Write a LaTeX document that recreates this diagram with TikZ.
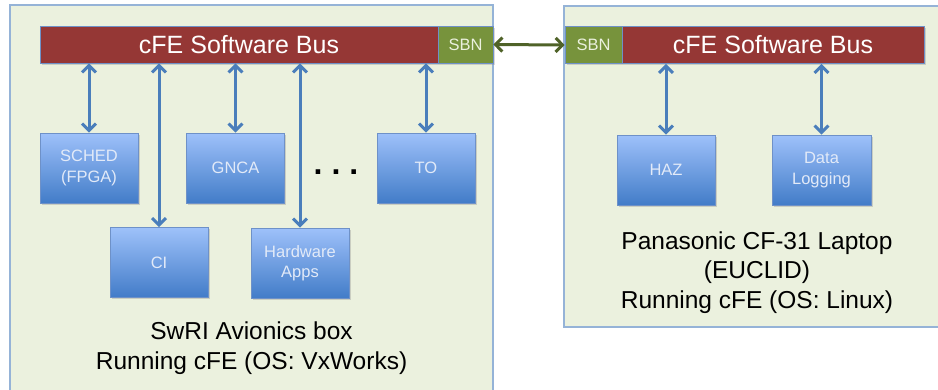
\documentclass[tikz,border=0pt]{standalone}
\usepackage{fontspec}
\setmainfont{Liberation Sans}
\usetikzlibrary{arrows.meta,shadows}

\definecolor{panelfill}{RGB}{235,241,222}
\definecolor{panelline}{RGB}{149,179,215}
\definecolor{busred}{RGB}{149,55,53}
\definecolor{sbngreen}{RGB}{119,147,60}
\definecolor{edgeblue}{RGB}{110,145,200}
\definecolor{arrowblue}{RGB}{74,126,187}
\definecolor{arrowgreen}{RGB}{79,98,40}
\definecolor{apptop}{RGB}{158,193,250}
\definecolor{appbot}{RGB}{66,124,200}
\definecolor{apptext}{RGB}{226,234,248}

\tikzset{
  panel/.style={draw=panelline, line width=1.4pt, fill=panelfill},
  busbar/.style={draw=edgeblue, line width=0.6pt, fill=busred, text=white,
    font=\fontsize{25}{28}\selectfont, minimum height=37pt, inner sep=0pt,
    drop shadow={shadow xshift=1.5pt, shadow yshift=-1.5pt, opacity=0.3}},
  sbnbox/.style={draw=edgeblue, line width=0.6pt, fill=sbngreen, text=panelfill,
    font=\fontsize{16.5}{20}\selectfont, minimum height=37pt, inner sep=0pt,
    drop shadow={shadow xshift=1.5pt, shadow yshift=-1.5pt, opacity=0.3}},
  appbox/.style={draw=edgeblue, line width=0.6pt, top color=apptop, bottom color=appbot,
    text=apptext, font=\fontsize{16.5}{20.5}\selectfont, align=center,
    minimum width=98pt, minimum height=70pt, inner sep=0pt,
    drop shadow={shadow xshift=1.5pt, shadow yshift=-1.5pt, opacity=0.3}},
  busarrow/.style={draw=arrowblue, line width=3pt,
    {Straight Barb[length=7pt,width=14pt,line width=3pt]}-{Straight Barb[length=7pt,width=14pt,line width=3pt]}},
  linkarrow/.style={draw=arrowgreen, line width=3pt,
    {Straight Barb[length=7pt,width=14pt,line width=3pt]}-{Straight Barb[length=7pt,width=14pt,line width=3pt]}},
  caption/.style={align=center, text=black, font=\fontsize{24.5}{29.5}\selectfont}
}

\begin{document}
\begin{tikzpicture}[x=1pt,y=-1pt]
  \useasboundingbox (0,0) rectangle (938,389);

  % the two computers
  \draw[panel] (10,5) rectangle (493,400);
  \draw[panel] (564,6) rectangle (950,327);

  % software buses with their bridge ends
  \node[busbar, minimum width=398pt] (lbus) at (239,44.5) {cFE Software Bus};
  \node[sbnbox, minimum width=55pt] (lsbn) at (465.5,44.5) {SBN};
  \node[sbnbox, minimum width=57pt] (rsbn) at (593.5,45) {SBN};
  \node[busbar, minimum width=302pt] (rbus) at (773,45) {cFE Software Bus};

  % applications on the avionics box
  \node[appbox] (sched) at (89,168) {SCHED\\(FPGA)};
  \node[appbox] (gnca) at (235.5,168) {GNCA};
  \node[appbox] (to) at (426,168) {TO};
  \node[appbox] (ci) at (159,262.5) {CI};
  \node[appbox] (hw) at (300,263) {Hardware\\Apps};
  \node[font=\bfseries\fontsize{32}{32}\selectfont, inner sep=0pt] (dots) at (336,172) {.\hspace{9pt}.\hspace{9pt}.};

  % applications on the laptop
  \node[appbox] (haz) at (666,170) {HAZ};
  \node[appbox, minimum width=99pt] (dl) at (821.5,170) {Data\\Logging};

  % bus connections
  \draw[busarrow] (lbus.south -| sched.north) -- (sched.north);
  \draw[busarrow] (lbus.south -| ci.north) -- (ci.north);
  \draw[busarrow] (lbus.south -| gnca.north) -- (gnca.north);
  \draw[busarrow] (lbus.south -| hw.north) -- (hw.north);
  \draw[busarrow] (lbus.south -| to.north) -- (to.north);
  \draw[busarrow] (rbus.south -| haz.north) -- (haz.north);
  \draw[busarrow] (rbus.south -| dl.north) -- (dl.north);

  % bridge link between the buses
  \draw[linkarrow] (lsbn.east) -- (rsbn.west);

  % captions
  \node[caption] (lcap) at (251.5,348) {SwRI Avionics box\\Running cFE (OS: VxWorks)};
  \node[caption] (rcap) at (757,272.5) {Panasonic CF-31 Laptop\\(EUCLID)\\Running cFE (OS: Linux)};
\end{tikzpicture}
\end{document}
